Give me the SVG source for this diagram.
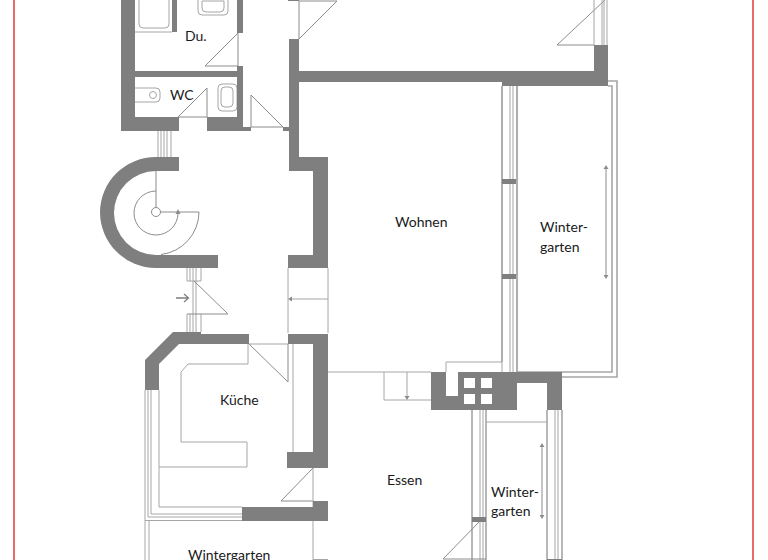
<svg xmlns="http://www.w3.org/2000/svg" width="768" height="560" viewBox="0 0 768 560">
<style>
.w{fill:#7f7f7f;stroke:none}
.l{fill:none;stroke:#a6a6a6;stroke-width:1}
.d{fill:none;stroke:#8c8c8c;stroke-width:1}
.g{fill:none;stroke:#a6a6a6;stroke-width:1.6}
.a{fill:none;stroke:#8c8c8c;stroke-width:1}
.ah{fill:#8c8c8c;stroke:none}
text{font-family:Lato,"Open Sans",sans-serif;font-size:14px;fill:#1a1a1a}
</style>
<rect width="768" height="560" fill="#fff"/>
<g id="frame"><path d="M14 0V560M753 0V560" fill="none" stroke="#ea6a66" stroke-width="2"/></g>
<g id="thin-lines">
<path class="l" d="M135 32H172M139 0V24Q139 28 143 28H165Q169 28 169 24V0"/>
<path class="l" d="M198 0V11Q198 15 202 15H224Q228 15 228 11V0M202 1V8Q202 12 206 12H220Q224 12 224 8V1H202"/>
<path class="d" d="M238 33V66H205L238 33"/>
<path class="l" d="M135 88H156Q160 88 160 92V98Q160 102 156 102H135"/><circle class="l" cx="153" cy="95" r="3.500"/>
<path class="d" d="M207 88V117H178L207 88"/>
<rect class="l" x="218" y="84" width="19" height="27" rx="4"/><rect class="l" x="221" y="87" width="12" height="20" rx="4"/>
<path class="d" d="M251 95V127H283L251 95"/>
<path class="l" d="M158 131V157M161 131V157M164 131V157M167 131V157M171 131V157"/>
<path class="d" d="M299 39V1H337L299 39"/>
<path class="d" d="M594 45H557L605 0"/>
<path class="l" d="M594 0V45M602 0V45M604 0V45M607 0V45"/>
<path class="l" d="M502 86V372M510 86V372M513 86V372M517 86V372"/>
<path class="g" d="M502 86V362M517 86V372H562M562 377H617V81H608M608 86H612V372H562"/>
<path class="l" d="M446 372V362H502"/>
<path class="l" d="M328 372H431M384 372V400H431M407 372V397"/>
<path class="g" d="M472 410V560M486 410V560M547 410V560M562 410V560"/>
<path class="l" d="M480 410V560M483 410V560M555 410V560M558 410V560M486 422H547"/>
<path class="d" d="M480 521L443 559H486"/>
<path class="l" d="M288 268V333M328 268V333M290 299H328"/>
<path class="l" d="M187 268V281M190 268V281M193 268V314M196 268V314M201 268V281H187M187 314V332M190 314V332M193 314V332M196 314V332M201 314V332"/>
<path class="d" d="M194 281L228 314H187"/>
<path class="l" d="M249 344H288M293 344V452"/>
<path class="d" d="M249 344L288 382V344"/>
<path class="l" d="M248 344V364H188L181 372V442H247V467H159"/>
<path class="l" d="M159 390V507H242M151 390V514H242M148 390V517H242M145 390V560M145 520.500H242M149 520V560"/>
<path class="d" d="M313 468L281 501H313"/>
<path class="l" d="M313 468V507M313 521V560M313 559.500H328"/>
</g>
<g id="walls">
<rect class="w" x="237" y="0" width="6" height="33"/>
<rect class="w" x="288" y="0" width="11" height="1"/>
<path class="w" d="M121 0H135V71H237V66H243V127H251V131H207V117H237V77H135V117H179V131H121Z"/>
<rect class="w" x="172" y="0" width="5" height="32"/>
<path class="w" d="M283 127H289V39H299V71H594V45H608V86H502V82H299V157H328V268H288V255H313V171H289V131H283Z"/>
<path class="w" d="M100 212A56 55.500 0 0 1 156 157H179V171H156A42 42 0 0 0 156 255H218V268H156A56 56 0 0 1 100 212Z"/>
<path class="w" d="M145 360L173 332H201V334H249V344H179L159 364V390H145Z"/>
<path class="w" d="M288 334H328V468H287V452H313V344H288Z"/>
<path class="w" d="M242 507H313V501H328V521H242Z"/>
<path class="w" d="M431 372H446V396H458V372H562V410H547V383H517V410H431Z"/>
<g fill="#fff"><rect x="464" y="378" width="11" height="10"/><rect x="481" y="378" width="11" height="10"/><rect x="464" y="394" width="11" height="10"/><rect x="481" y="394" width="11" height="10"/></g>
<rect class="w" x="502" y="179" width="14" height="5"/>
<rect class="w" x="502" y="274" width="14" height="5"/>
<rect class="w" x="472" y="517" width="14" height="5"/>
<rect class="w" x="547" y="559" width="15" height="1"/>
</g>
<g id="stairs">
<circle class="d" cx="156" cy="212" r="4.500"/>
<path class="d" d="M156 171V207.500M160.500 212H199A43 43 0 0 1 161 254.500"/>
<path class="d" d="M156 191A22 22 0 1 0 178 213"/>
<path class="ah" d="M178 209L175.500 214H180.500Z"/>
</g>
<g id="arrows">
<path d="M176 298H188M184 294L188.500 298L184 302" fill="none" stroke="#7f7f7f" stroke-width="1.300"/>
<path class="a" d="M606 167V277M542 445V517"/>
<path class="ah" d="M606 165L603.500 169H608.500ZM606 279L603.500 275H608.500ZM542 443L539.500 447H544.500ZM542 519L539.500 515H544.500ZM288 299L292 296.500V301.500ZM407 400L404.500 396H409.500Z"/>
</g>
<g id="labels">
<text x="185" y="41">Du.</text>
<text x="170" y="100">WC</text>
<text x="395" y="227">Wohnen</text>
<text x="540" y="232">Winter-</text>
<text x="540" y="252">garten</text>
<text x="220" y="405">Küche</text>
<text x="387" y="485">Essen</text>
<text x="491" y="497">Winter-</text>
<text x="491" y="516">garten</text>
<text x="188" y="560">Wintergarten</text>
</g>
</svg>
